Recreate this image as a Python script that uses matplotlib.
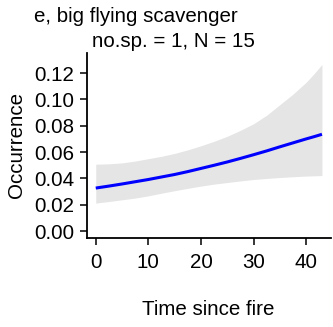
import matplotlib
matplotlib.use("Agg")
import matplotlib.pyplot as plt

plt.rcParams['font.family'] = ['Liberation Sans', 'DejaVu Sans']

# Fitted occurrence vs. time since fire, with confidence band
time_since_fire = [0, 2.5, 5, 7.5, 10, 12.5, 15, 17.5, 20, 22.5, 25, 27.5,
                   30, 32.5, 35, 37.5, 40, 41.5, 43]
fit = [0.0327, 0.0342, 0.0358, 0.0375, 0.0392, 0.0411, 0.0430, 0.0452, 0.0476,
       0.0500, 0.0525, 0.0552, 0.0580, 0.0609, 0.0640, 0.0670, 0.0700, 0.0717,
       0.0735]
lower = [0.0213, 0.0225, 0.0238, 0.0251, 0.0268, 0.0288, 0.0307, 0.0325, 0.0342,
         0.0357, 0.0369, 0.0381, 0.0392, 0.0400, 0.0407, 0.0413, 0.0418, 0.0420,
         0.0422]
upper = [0.0508, 0.0511, 0.0518, 0.0532, 0.0550, 0.0568, 0.0590, 0.0617, 0.0648,
         0.0682, 0.0720, 0.0765, 0.0815, 0.0880, 0.0960, 0.1040, 0.1130, 0.1195,
         0.1265]

x_ticks = [0, 10, 20, 30, 40]
y_ticks = [0.00, 0.02, 0.04, 0.06, 0.08, 0.10, 0.12]
y_tick_labels = ["0.00", "0.02", "0.04", "0.06", "0.08", "0.10", "0.12"]

title_line1 = "e, big flying scavenger"
title_line2 = "no.sp. = 1, N = 15"

W, H = 333, 327
fig = plt.figure(figsize=(W / 100, H / 100), dpi=100)
ax = fig.add_axes([86.7 / W, (H - 238) / H, (331 - 86.7) / W, (238 - 53) / H])

ax.fill_between(time_since_fire, lower, upper, color="#E5E5E5", lw=0)
ax.plot(time_since_fire, fit, color="#0000FF", lw=2.2, solid_capstyle="butt")

ax.set_xlim(-1.72, 44.72)
ax.set_ylim(-0.0052, 0.1352)
ax.set_xticks(x_ticks)
ax.set_yticks(y_ticks)
ax.set_yticklabels(y_tick_labels)

for side in ("top", "right"):
    ax.spines[side].set_visible(False)
for side in ("left", "bottom"):
    ax.spines[side].set_linewidth(1.3)
    ax.spines[side].set_color("black")

fs = 14.8
ax.tick_params(axis="both", direction="out", length=5, width=1.1, labelsize=fs,
               color="black", labelcolor="black")
ax.tick_params(axis="y", pad=4)
ax.tick_params(axis="x", pad=6)

fig.text(136 / W, 1 - 21.7 / H, title_line1, ha="center", va="baseline", fontsize=fs)
fig.text(173.5 / W, 1 - 46.7 / H, title_line2, ha="center", va="baseline", fontsize=fs)
fig.text(208.5 / W, 1 - 315 / H, "Time since fire", ha="center", va="baseline", fontsize=fs)
fig.text(17 / W, 1 - 145.5 / H, "Occurrence", ha="center", va="center",
         rotation=90, fontsize=fs)

fig.savefig("out.png", dpi=100, facecolor="white")
